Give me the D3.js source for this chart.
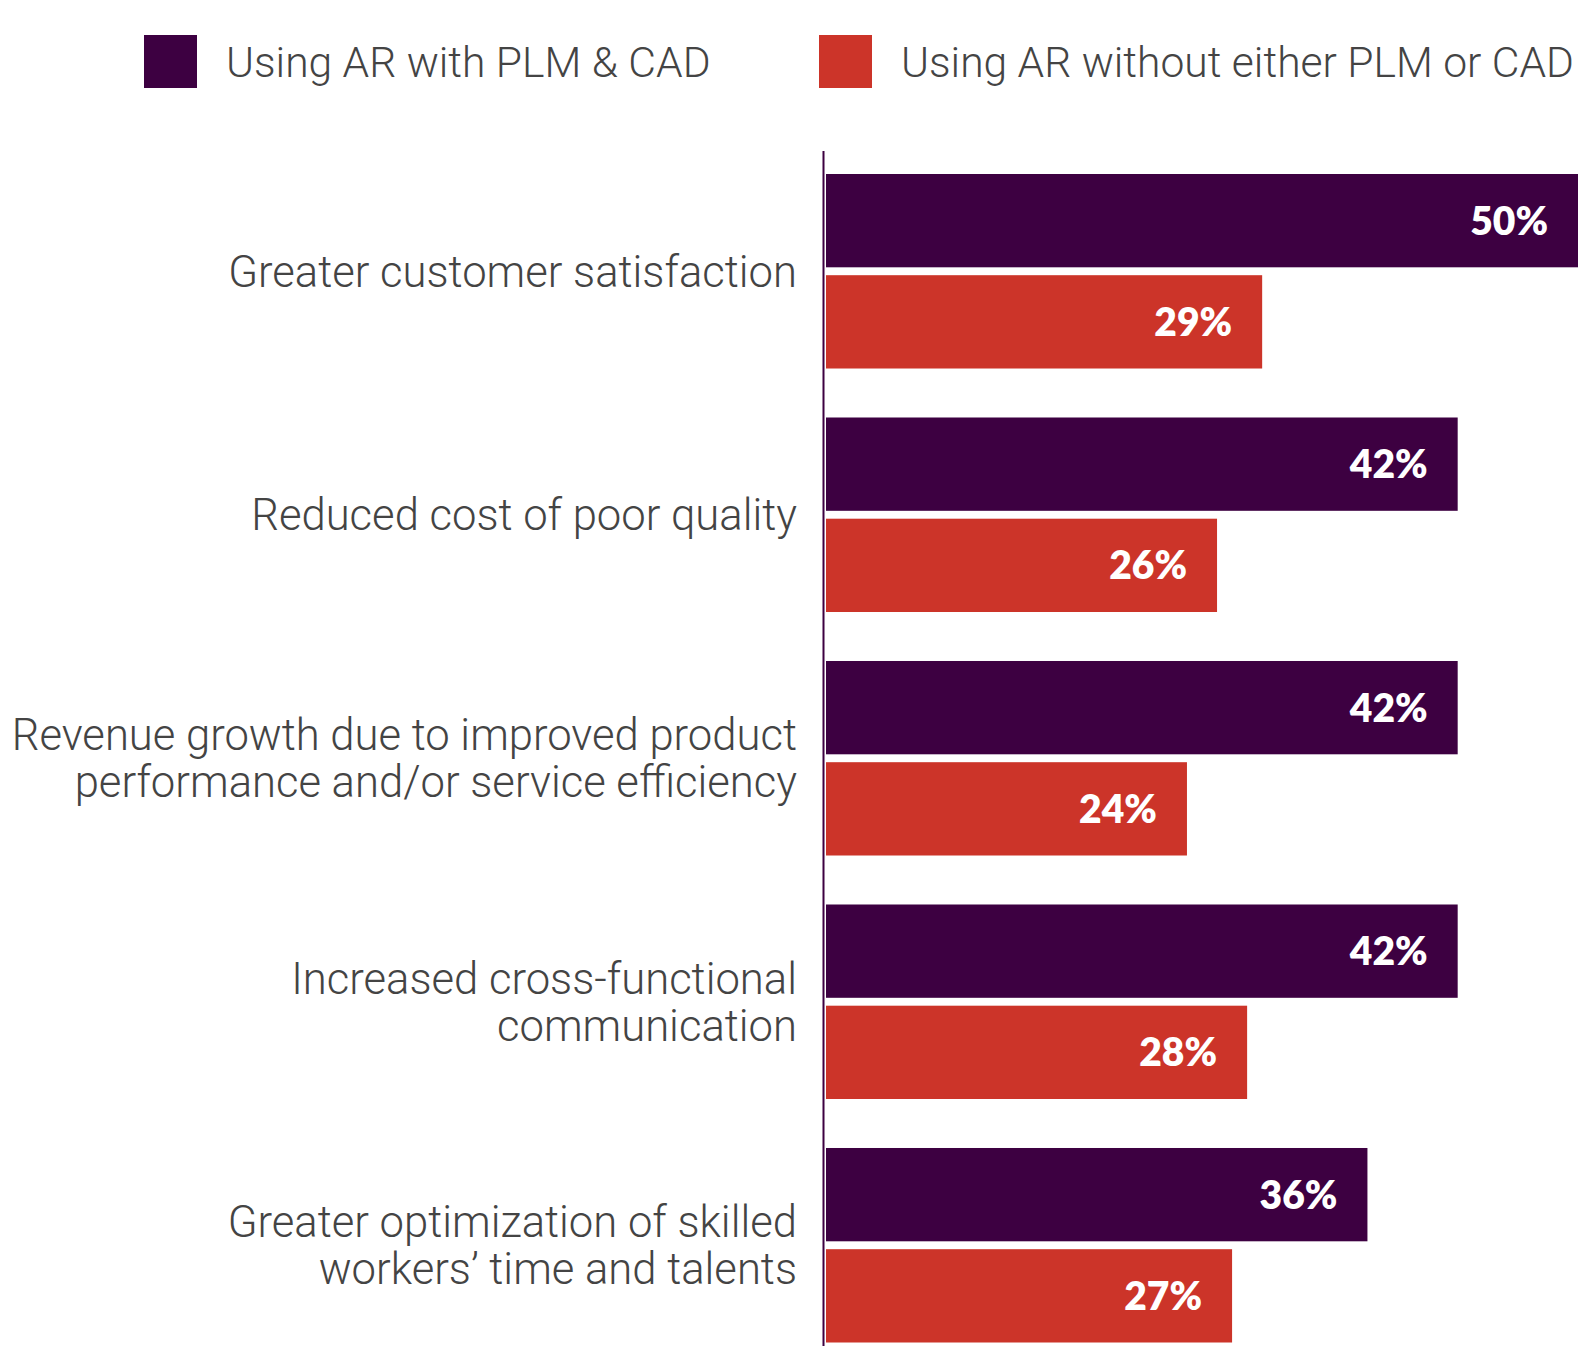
<!DOCTYPE html>
<html>
<head>
<meta charset="utf-8">
<script src="https://cdn.jsdelivr.net/npm/d3@7"></script>
<style>
  html, body { margin: 0; padding: 0; background: #ffffff; }
  svg { display: block; }
</style>
</head>
<body>
<div id="chart"></div>
<script>
// ---- data ----
const categories = [
  "Greater customer satisfaction",
  "Reduced cost of poor quality",
  "Revenue growth due to improved product\nperformance and/or service efficiency",
  "Increased cross-functional\ncommunication",
  "Greater optimization of skilled\nworkers\u2019 time and talents"
];
const seriesNames = ["Using AR with PLM & CAD", "Using AR without either PLM or CAD"];
const withPlmCad = [50, 42, 42, 42, 36];
const withoutPlmCad = [29, 26, 24, 28, 27];
const seriesColors = ["#3d0041", "#cc3429"];

// ---- layout ----
const W = 1582, H = 1346;
const axisX = 823.5;
const barStart = 826;

const svg = d3.select("#chart").append("svg")
  .attr("width", W).attr("height", H);

const x = d3.scaleLinear().domain([0, 50]).range([barStart, 1578]);
const y = d3.scaleBand().domain(categories).range([174, 1342.5]).paddingInner(0.2012).paddingOuter(0);
const ySub = d3.scaleBand().domain(seriesNames).range([0, y.bandwidth()]).paddingInner(0.078);

const rows = categories.map((c, i) => ({
  cat: c,
  vals: [
    { s: seriesNames[0], v: withPlmCad[i], color: seriesColors[0] },
    { s: seriesNames[1], v: withoutPlmCad[i], color: seriesColors[1] }
  ]
}));

const g = svg.selectAll("g.group").data(rows).join("g")
  .attr("class", "group")
  .attr("transform", d => `translate(0,${y(d.cat)})`);

g.selectAll("rect").data(d => d.vals).join("rect")
  .attr("x", x(0))
  .attr("y", d => ySub(d.s))
  .attr("width", d => x(d.v) - x(0))
  .attr("height", ySub.bandwidth())
  .attr("fill", d => d.color);

g.selectAll("text.val").data(d => d.vals).join("text")
  .attr("class", "val")
  .attr("x", d => x(d.v) - 30)
  .attr("y", d => ySub(d.s) + ySub.bandwidth() / 2)
  .attr("dy", "0.36em")
  .attr("text-anchor", "end")
  .attr("fill", "#ffffff")
  .style("font-family", "Lato, 'Open Sans', sans-serif")
  .style("font-weight", 800)
  .style("font-size", "39px")
  .text(d => d.v + "%");

// category labels
const lineH = 47;
g.each(function(d) {
  const lines = d.cat.split("\n");
  const cy = y.bandwidth() / 2;
  const t = d3.select(this).append("text")
    .attr("text-anchor", "end")
    .attr("fill", "#444444")
    .style("font-family", "Roboto, Lato, sans-serif")
    .style("font-weight", 300)
    .style("font-size", "43.6px");
  lines.forEach((ln, i) => {
    t.append("tspan")
      .attr("x", 797)
      .attr("y", cy + (i - (lines.length - 1) / 2) * lineH)
      .attr("dy", "0.36em")
      .text(ln);
  });
});

// axis line
svg.append("line")
  .attr("x1", axisX).attr("x2", axisX)
  .attr("y1", 151).attr("y2", H)
  .attr("stroke", seriesColors[0])
  .attr("stroke-width", 2);

// legend
const legendX = [144, 819];
const lg = svg.selectAll("g.legend").data(seriesNames).join("g")
  .attr("class", "legend")
  .attr("transform", (d, i) => `translate(${legendX[i]},35)`);
lg.append("rect")
  .attr("width", 53).attr("height", 53)
  .attr("fill", (d, i) => seriesColors[i]);
lg.append("text")
  .attr("x", 82)
  .attr("y", 26.5)
  .attr("dy", "0.36em")
  .attr("fill", "#444444")
  .style("font-family", "Roboto, Lato, sans-serif")
  .style("font-weight", 300)
  .style("font-size", "42.6px")
  .text(d => d);
</script>
</body>
</html>
